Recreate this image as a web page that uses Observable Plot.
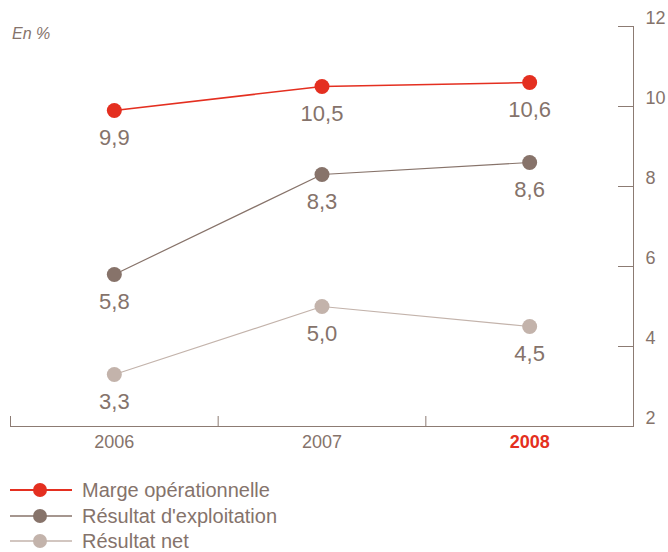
<!DOCTYPE html>
<html>
<head>
<meta charset="utf-8">
<script src="https://cdn.jsdelivr.net/npm/d3@7"></script>
<script src="https://cdn.jsdelivr.net/npm/@observablehq/plot@0.6"></script>
<style>
  html, body { margin: 0; padding: 0; background: #fff; }
  body { width: 668px; height: 552px; overflow: hidden; font-family: "Liberation Sans", Arial, sans-serif; color: #85736b; position: relative; }
  #chart { position: relative; }
  .unit { position: absolute; left: 12px; top: 25px; font-style: italic; font-size: 16px; color: #85736b; }
  .legend { position: absolute; left: 10px; top: 482px; display: flex; flex-direction: column; row-gap: 9.5px; }
  .item { display: flex; align-items: center; height: 16px; font-size: 20px; line-height: 16px; }
  .item svg { margin-right: 10px; }
</style>
</head>
<body>
<div id="chart"><div class="unit">En %</div></div>
<div class="legend" id="legend"></div>
<script>
const years = [2006, 2007, 2008];
const seriesNames = ["Marge opérationnelle", "Résultat d'exploitation", "Résultat net"];
const marge = [9.9, 10.5, 10.6];
const exploitation = [5.8, 8.3, 8.6];
const net = [3.3, 5.0, 4.5];
const yTicks = [2, 4, 6, 8, 10, 12];
const highlightYear = 2008;
const colors = ["#e42f20", "#87736a", "#c3b3ab"];
const lineWidths = [1.5, 1.2, 1.2];

const textColor = "#85736b";
const axisColor = "#8c7b73";

const seriesValues = [marge, exploitation, net];
const data = [];
seriesNames.forEach((name, i) => {
  years.forEach((yr, j) => data.push({series: name, year: yr, value: seriesValues[i][j]}));
});
const fmt = v => v.toFixed(1).replace(".", ",");
const bounds = [years[0] - 0.5, ...years.map(y => y + 0.5)];

const chart = Plot.plot({
  width: 668,
  height: 470,
  marginTop: 26,
  marginBottom: 44,
  marginLeft: 10,
  marginRight: 35,
  x: {type: "linear", domain: [years[0] - 0.5, years[years.length - 1] + 0.5]},
  y: {domain: [2, 12]},
  color: {domain: seriesNames, range: colors},
  style: {fontFamily: "'Liberation Sans', Arial, sans-serif", color: textColor, background: "white", overflow: "visible"},
  marks: [
    Plot.frame({anchor: "bottom", stroke: axisColor, strokeOpacity: 1}),
    Plot.frame({anchor: "right", stroke: axisColor, strokeOpacity: 1}),
    Plot.axisY(yTicks, {anchor: "right", tickSize: -16, tickFormat: () => "", stroke: axisColor, strokeOpacity: 1, label: null}),
    Plot.axisY(yTicks, {anchor: "right", tickSize: 0, tickPadding: 12, dy: -8, fontSize: 18, fill: textColor, tickFormat: d => String(d), label: null}),
    Plot.axisX(bounds, {anchor: "bottom", tickSize: -10, tickFormat: () => "", stroke: axisColor, strokeOpacity: 1, label: null}),
    Plot.axisX(years.filter(y => y !== highlightYear), {anchor: "bottom", tickSize: 0, tickPadding: 9, tickFormat: d => String(d), fontSize: 18, fill: textColor, label: null}),
    Plot.axisX([highlightYear], {anchor: "bottom", tickSize: 0, tickPadding: 9, tickFormat: d => String(d), fontSize: 18, fontWeight: "bold", fill: colors[0], label: null}),
    ...seriesNames.map((name, i) => Plot.line(data.filter(d => d.series === name), {x: "year", y: "value", stroke: colors[i], strokeWidth: lineWidths[i]})),
    Plot.dot(data, {x: "year", y: "value", r: 7.5, fill: "series"}),
    Plot.text(data, {x: "year", y: "value", text: d => fmt(d.value), dy: 27, fontSize: 22, fill: textColor})
  ]
});
document.getElementById("chart").appendChild(chart);

const legend = document.getElementById("legend");
seriesNames.forEach((name, i) => {
  const item = document.createElement("div");
  item.className = "item";
  item.innerHTML = `<svg width="62" height="16"><line x1="0" x2="62" y1="8" y2="8" stroke="${colors[i]}" stroke-width="${lineWidths[i] + 0.3}"/><circle cx="30" cy="8" r="7" fill="${colors[i]}"/></svg><span>${name}</span>`;
  legend.appendChild(item);
});
</script>
</body>
</html>
